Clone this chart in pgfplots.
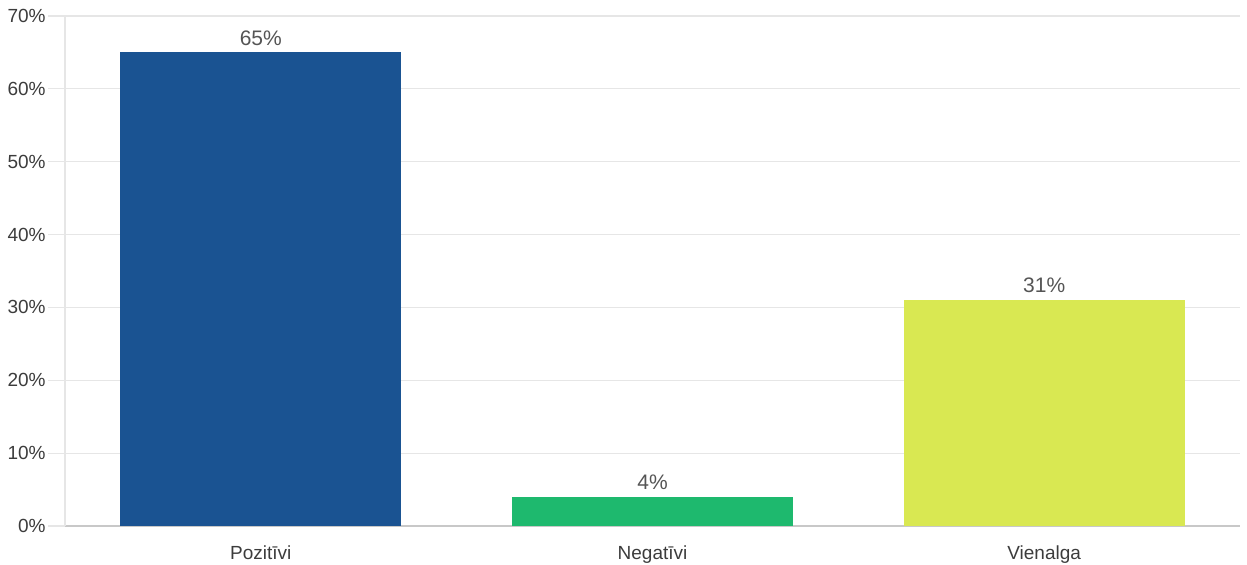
\documentclass[border=0pt]{standalone}
\usepackage{fontspec}
\setmainfont{Liberation Sans}
\usepackage{pgfplots}
\pgfplotsset{compat=1.18}
\definecolor{cblue}{RGB}{26,83,146}
\definecolor{cgreen}{RGB}{30,185,110}
\definecolor{cyellow}{RGB}{217,232,82}
\definecolor{gridc}{RGB}{230,230,230}
\definecolor{axisc}{RGB}{200,200,200}
\definecolor{txt}{RGB}{60,60,60}
\definecolor{vtxt}{RGB}{85,85,85}
\begin{document}
\begin{tikzpicture}
\useasboundingbox (-32.5pt,-19.5pt) rectangle (591pt,263pt);
\begin{axis}[
  at={(0,0)}, anchor=south west,
  scale only axis,
  width=587.5pt, height=255pt,
  xmin=-0.5, xmax=2.5,
  ymin=0, ymax=70,
  xtick={0,1,2},
  xticklabels={Pozitīvi,Negatīvi,Vienalga},
  ytick={0,10,...,70},
  yticklabel={\pgfmathprintnumber{\tick}\%},
  /pgf/number format/assume math mode=true,
  ymajorgrids,
  grid style={gridc, line width=0.6pt},
  axis line style={draw=none},
  axis x line*=bottom,
  axis y line*=left,
  x axis line style={draw=axisc, line width=0.9pt},
  y axis line style={draw=gridc, line width=0.6pt},
  xtick style={draw=none},
  ytick style={draw=gridc, line width=0.6pt},
  tick align=outside,
  major tick length=8.5pt,
  yticklabel style={font=\fontsize{9.5}{11}\selectfont, text=txt, inner sep=1pt},
  xticklabel style={font=\fontsize{9.5}{11}\selectfont, text=txt, yshift=2pt},
  clip=false,
  ybar,
  bar width=140.5pt,
  bar shift=0pt,
  nodes near coords={\pgfmathprintnumber{\pgfplotspointmeta}\%},
  every node near coord/.append style={font=\fontsize{10.5}{12}\selectfont, text=vtxt, yshift=0pt},
]
\addplot[fill=cblue, draw=none, fill opacity=1] coordinates {(0,65)};
\addplot[fill=cgreen, draw=none] coordinates {(1,4)};
\addplot[fill=cyellow, draw=none] coordinates {(2,31)};
\end{axis}
\end{tikzpicture}
\end{document}
